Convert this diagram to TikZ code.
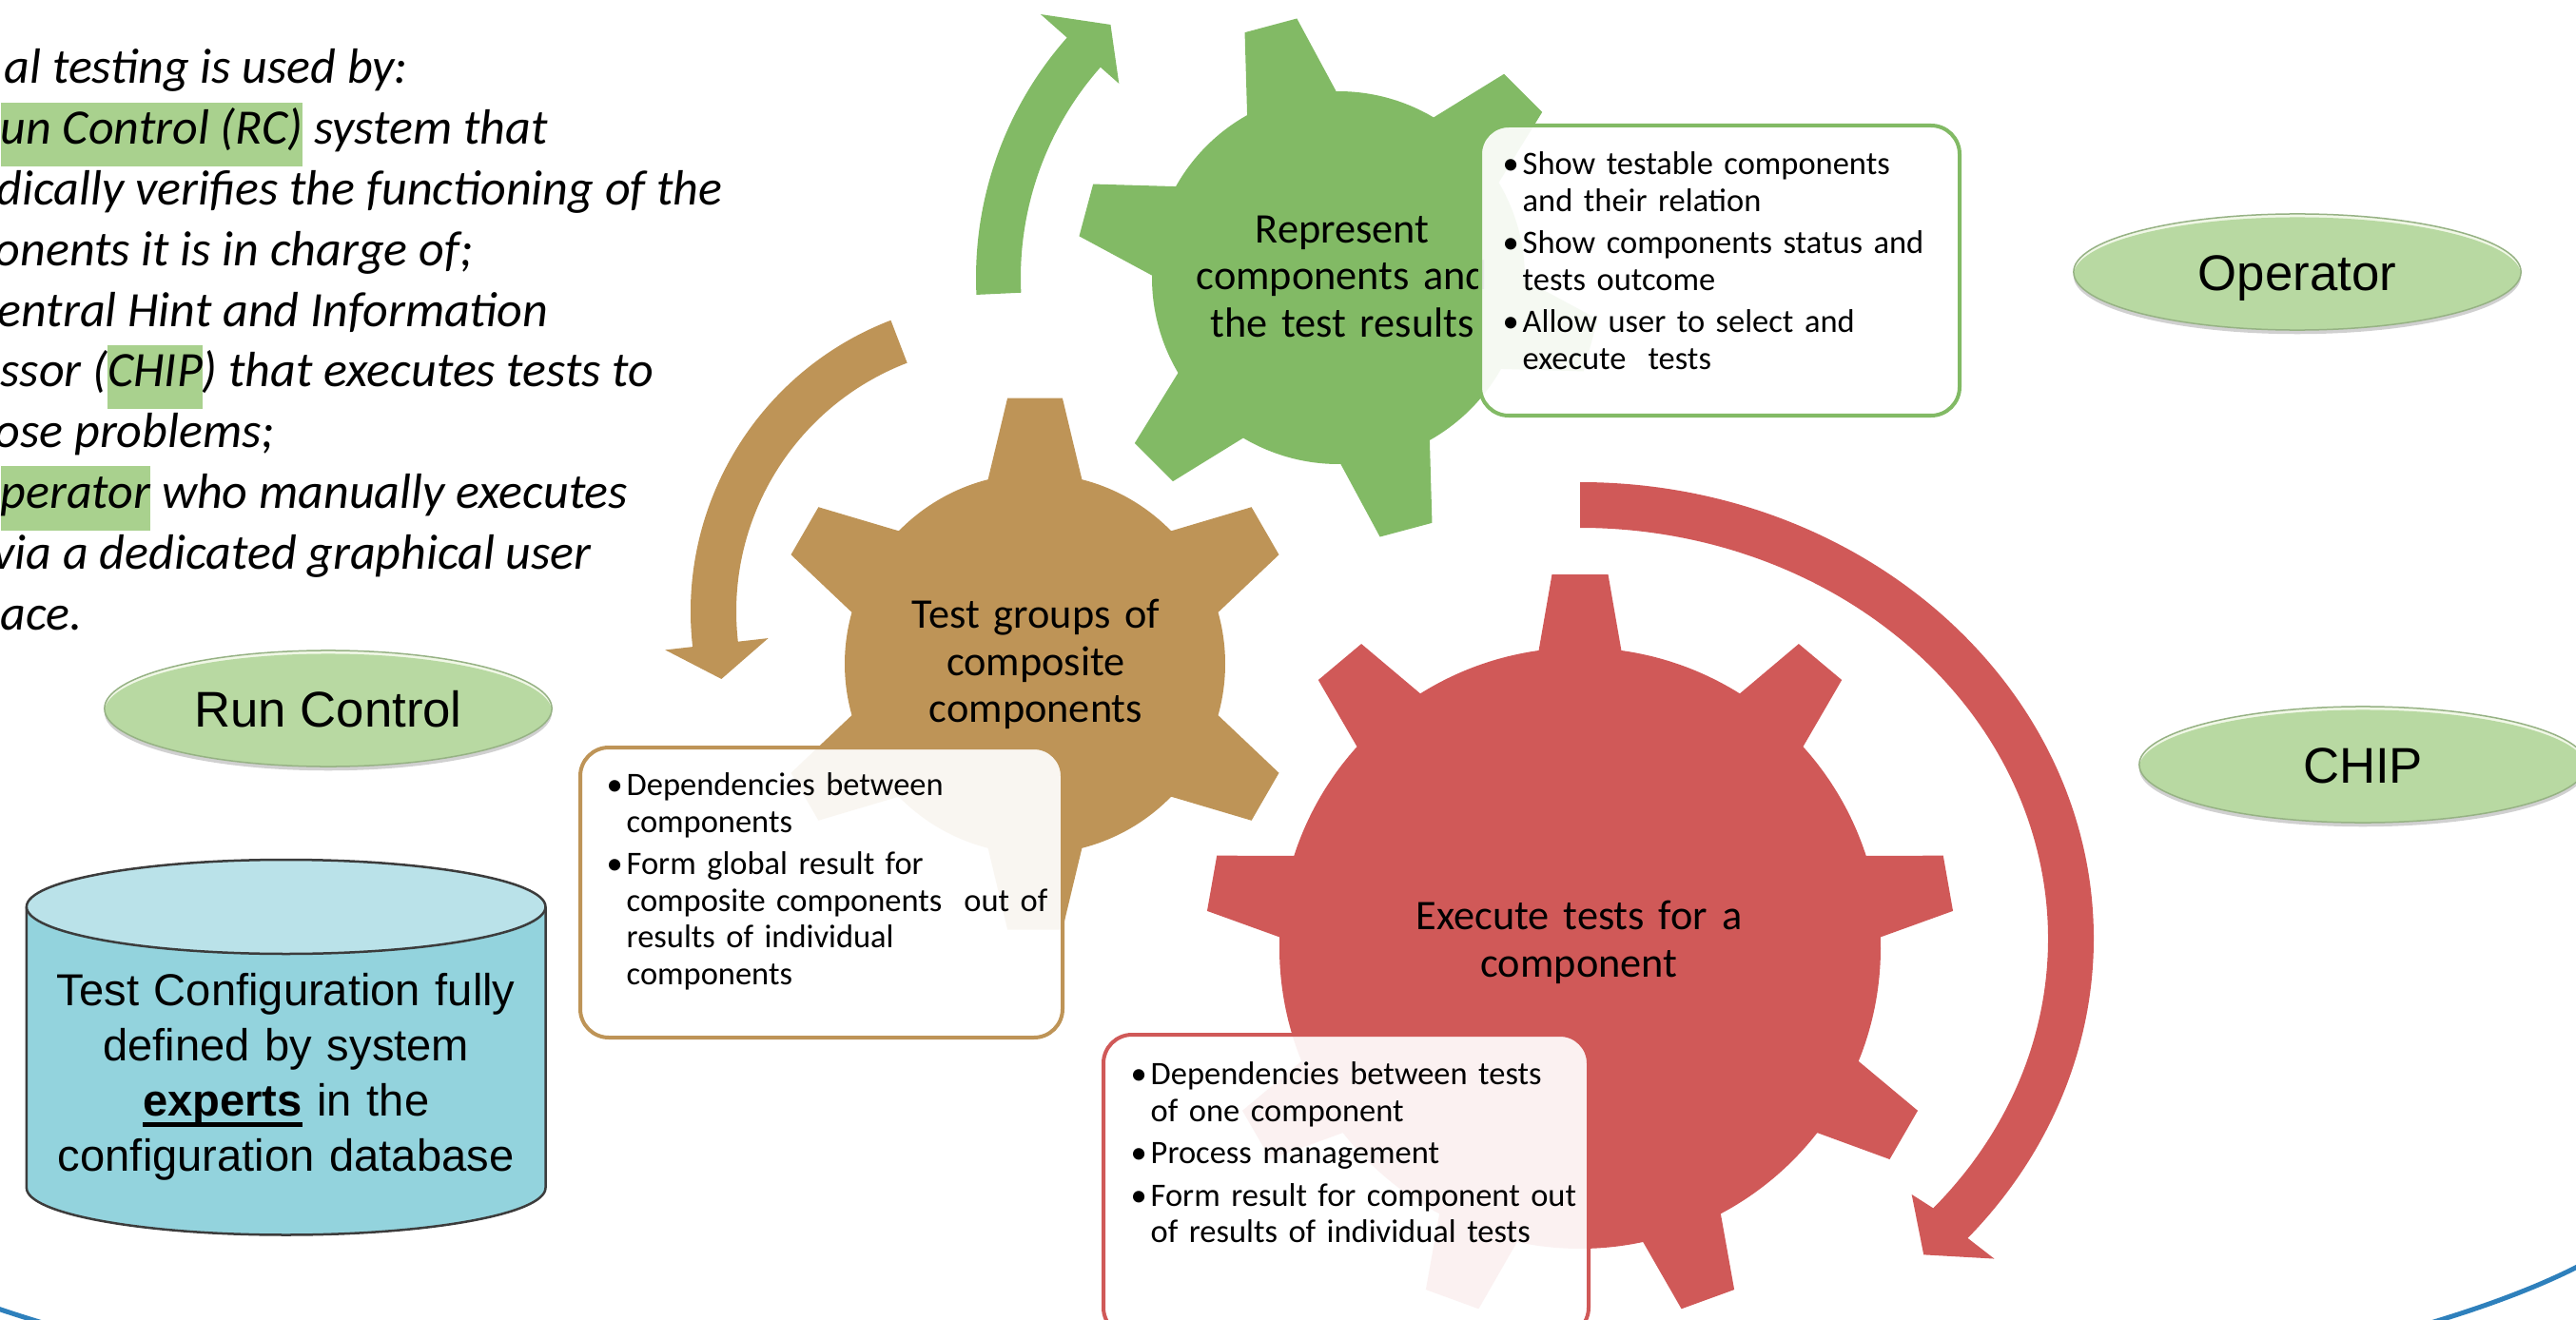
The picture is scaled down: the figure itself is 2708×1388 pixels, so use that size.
\documentclass[tikz,border=0pt]{standalone}
\usepackage{fontspec}
\setmainfont{Carlito}
\newfontfamily\arialfont{Liberation Sans}
\usetikzlibrary{shapes.geometric,shadows}

% one drawing unit = one pixel of the 2708 x 1388 canvas
\newlength\px
\setlength\px{0.28453pt}

\definecolor{gearG}{RGB}{130,186,101}
\definecolor{gearB}{RGB}{190,148,87}
\definecolor{gearR}{RGB}{208,89,88}
\definecolor{mark}{RGB}{169,209,142}
\definecolor{actorfill}{RGB}{184,217,162}
\definecolor{actorlight}{RGB}{240,247,230}
\definecolor{actoredge}{RGB}{150,178,132}
\definecolor{cylside}{RGB}{147,211,221}
\definecolor{cyltop}{RGB}{186,226,233}
\definecolor{cylline}{RGB}{60,60,60}
\definecolor{frameblue}{RGB}{46,128,188}

\newcommand\hlword[1]{{\setlength\fboxsep{0pt}\colorbox{mark}{\rule[-23\px]{0pt}{67\px}#1}}}
\newcommand\bul{\makebox[21\px][l]{\textbullet}}
\newcommand\ind{\hspace*{21\px}}
\newcommand\topline[1]{\rule{0pt}{#1\px}}
\newsavebox\ulbox
\newcommand\thickul[1]{\leavevmode\sbox\ulbox{#1}\rlap{\rule[-11\px]{\wd\ulbox}{5\px}}\usebox\ulbox}

% #1 colour, #2/#3 centre, #4 body radius, #5 tip radius,
% #6 half angle at the root, #7 half angle at the tip, #8 first tooth angle, #9 teeth
\newcommand\drawgear[9]{%
  \fill[#1,shift={(#2,#3)}] (#8+#6:#4)
    \foreach \k [evaluate=\k as \ang using {#8+\k*360/#9}] in {1,...,#9}
      { arc[start angle=\ang-360/#9+#6, end angle=\ang-#6, radius=#4]
        -- (\ang-#7:#5) -- (\ang+#7:#5) -- (\ang+#6:#4) } -- cycle;}

\begin{document}
\begin{tikzpicture}[x=0.01cm, y=-0.01cm,
  notebox/.style={line width=4\px, rounded corners=30\px, fill=white, fill opacity=0.92},
  notetext/.style={inner sep=0pt, anchor=north west, align=left, text width=480\px,
    font=\fontsize{9.8}{10.95}\selectfont},
  geartext/.style={inner sep=0pt, anchor=north, align=center, text width=420\px,
    font=\fontsize{12.6}{14.1}\selectfont},
  actor/.style={ellipse, minimum width=470\px, minimum height=122\px, inner sep=0pt,
    fill=actorlight, draw=actoredge, line width=1.5\px, text height=38\px, text depth=0pt,
    font=\arialfont\fontsize{15}{18}\selectfont,
    drop shadow={shadow xshift=0pt, shadow yshift=-1.2pt, opacity=0.3, fill=black!60},
    path picture={\fill[actorfill] ([yshift=-3.5\px]path picture bounding box.center)
      ellipse [x radius=235\px, y radius=61\px];}},
]
\useasboundingbox (0,0) rectangle (2708,1388);
\clip (0,0) rectangle (2708,1388);
\fill[white] (0,0) rectangle (2708,1388);

% outer frame, only its lower rim reaches the canvas
\draw[frameblue, line width=5\px] (1300,1215) ++(0:1520 and 312)
  arc[start angle=0, end angle=180, x radius=1520, y radius=312];

% circular arrows
\fill[gearG, shift={(1407,292)}] (177.3:381)
  arc[start angle=177.3, end angle=221.5, radius=381]
  -- (221.5:418) -- (228:358) -- (221.5:308) -- (221.5:334)
  arc[start angle=221.5, end angle=177.3, radius=334] -- cycle;
\fill[gearB, shift={(1054,643)}] (249:328)
  arc[start angle=249, end angle=173.5, radius=328]
  -- (173.5:357) -- (166.5:304) -- (173.5:248) -- (173.5:280)
  arc[start angle=173.5, end angle=249, radius=280] -- cycle;
\fill[gearR, shift={(1661,987)}] (270:540 and 480)
  arc[start angle=270, end angle=401, x radius=540, y radius=480]
  -- (401:577 and 513) -- (406:520 and 462) -- (401:462 and 410) -- (401:492 and 432)
  arc[start angle=401, end angle=270, x radius=492, y radius=432] -- cycle;

% gears
\drawgear{gearG}{1407}{292}{196}{276}{14.3}{5.9}{15}{6}
\drawgear{gearB}{1088}{698}{200}{281}{14.3}{5.9}{30}{6}
\drawgear{gearR}{1661}{997}{316}{394}{7.9}{4.3}{30}{9}

\node[geartext] (gtext) at (1411,208.5) {\topline{46}Represent\\components and\\the test results};
\node[geartext] (btext) at (1089,613.7) {\topline{46}Test groups of\\composite\\components};
\node[geartext] (rtext) at (1660,931) {\topline{46}Execute tests for a\\component};

% note boxes
\draw[notebox, draw=gearG] (1556,132) rectangle (2060,437);
\node[notetext] (gnotes) at (1579,147) {\topline{36}\bul Show testable components\\
  \ind and their relation\\[6\px]
  \bul Show components status and\\
  \ind tests outcome\\[6\px]
  \bul Allow user to select and\\
  \ind execute\ \ tests};

\draw[notebox, draw=gearB] (610,786) rectangle (1117,1091);
\node[notetext] (bnotes) at (637,800) {\topline{36}\bul Dependencies between\\
  \ind components\\[6\px]
  \bul Form global result for\\
  \ind composite components\ \ out of\\
  \ind results of individual\\
  \ind components};

\draw[notebox, draw=gearR] (1160,1088) rectangle (1670,1405);
\node[notetext] (rnotes) at (1188,1104) {\topline{36}\bul Dependencies between tests\\
  \ind of one component\\[6\px]
  \bul Process management\\[6\px]
  \bul Form result for component out\\
  \ind of results of individual tests};

% introduction text
\node[anchor=north west, inner sep=0pt, align=left,
  font={\itshape\fontsize{14.8}{18.15}\selectfont\lineskiplimit=-100pt}] (intro) at (0,37) {%
  \topline{50}\hspace*{4\px}al testing is used by:\\
  \hlword{un Control (RC)} system that\\
  \hspace*{-4\px}dically verifies the functioning of the\\
  \hspace*{-6\px}onents it is in charge of;\\
  \hspace*{-3\px}entral Hint and Information\\
  ssor (\hlword{CHIP}) that executes tests to\\
  \hspace*{-6\px}ose problems;\\
  \hlword{perator} who manually executes\\
  \hspace*{-8\px}via a dedicated graphical user\\
  ace.};

% actors
\node[actor] (rc) at (345,745) {Run Control};
\node[actor] (op) at (2415,286) {Operator};
\node[actor] (chip) at (2484,804) {CHIP};

% configuration database
\fill[cylside] (27.9,953.5) -- (27.9,1249)
  arc[start angle=180, end angle=0, x radius=272.8, y radius=49.5]
  -- (573.5,953.5)
  arc[start angle=0, end angle=180, x radius=272.8, y radius=49.5] -- cycle;
\draw[cylline, line width=2.5\px] (27.9,953.5) -- (27.9,1249)
  arc[start angle=180, end angle=0, x radius=272.8, y radius=49.5] -- (573.5,953.5);
\filldraw[fill=cyltop, draw=cylline, line width=2.5\px] (300.7,953.5)
  ellipse [x radius=272.8, y radius=49.5];
\node[anchor=north, inner sep=0pt, align=center, text width=540\px,
  font=\arialfont\fontsize{13.4}{16.5}\selectfont] (dbtext) at (300.7,1012)
  {\topline{45}Test Configuration fully\\defined by system\\
   \thickul{\textbf{experts}} in the\\configuration database};
\end{tikzpicture}
\end{document}
